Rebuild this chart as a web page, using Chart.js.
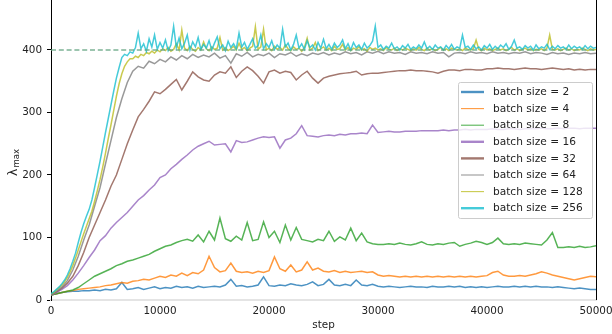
<!DOCTYPE html>
<html>
<head>
<meta charset="utf-8">
<script src="https://cdn.jsdelivr.net/npm/chart.js@4.4.1/dist/chart.umd.min.js"></script>
<style>
html,body{margin:0;padding:0;background:#fff;}
#c{display:block;}
</style>
</head>
<body>
<canvas id="c" width="612" height="334"></canvas>
<script>
// ---------- data ----------
const seriesLabels = ['batch size = 2','batch size = 4','batch size = 8','batch size = 16','batch size = 32','batch size = 64','batch size = 128','batch size = 256'];
const xTicks = [0,10000,20000,30000,40000,50000];
const yTicks = [0,100,200,300,400];
const referenceLevel = 400;

const steps500 = Array.from({length:101}, (_, i) => i * 500);
const steps250 = Array.from({length:201}, (_, i) => i * 250);

const bs2 = [8,10,12,13,14,14,15,15,16,15,
17,16,18,28,17,18,20,17,19,21,
18,20,19,22,20,21,19,22,20,21,
22,21,24,33,22,23,21,22,24,37,
23,22,24,23,26,24,23,25,29,23,
25,33,24,23,25,23,32,24,23,25,
22,21,22,21,20,21,22,21,21,20,
22,21,21,22,21,22,20,21,20,21,
20,21,22,21,21,22,21,22,21,22,
21,21,20,21,20,19,18,19,18,17,
17];

const bs4 = [8,10,12,14,15,17,18,19,20,21,
23,24,26,28,27,30,31,33,32,35,
38,36,40,38,43,39,44,42,48,70,
52,45,47,59,46,44,45,43,46,44,
47,69,50,46,56,45,48,61,48,51,
46,45,47,44,46,44,45,46,44,45,
40,38,39,38,37,38,37,38,37,38,
37,38,37,38,37,38,37,38,37,38,
39,44,46,40,38,38,39,38,40,42,
45,43,40,38,36,34,32,34,36,38,
37];

const bs8 = [8,10,12,14,16,20,26,32,38,42,
46,50,55,58,62,64,67,70,73,78,
82,86,88,92,95,97,94,104,93,110,
96,131,98,94,102,96,124,95,97,125,
100,110,92,120,96,116,97,95,93,97,
95,110,94,101,96,115,95,107,93,90,
89,89,90,89,91,89,88,90,93,89,
88,90,89,91,92,86,89,91,94,92,
89,92,99,90,89,90,89,91,90,89,
88,96,108,84,84,85,84,86,84,85,
87];

const bs16 = [8,12,17,23,32,43,55,68,80,95,
103,115,124,132,140,150,160,167,176,184,
196,200,210,217,225,232,240,246,250,254,
248,249,250,237,255,252,253,256,259,261,
260,261,243,256,259,266,279,263,262,261,
263,264,263,265,264,266,266,267,266,280,
268,269,270,269,269,270,270,270,271,271,
271,271,272,271,272,272,273,272,273,273,
273,274,273,273,274,274,273,274,274,274,
275,274,274,275,274,275,275,274,275,275,
275];

const bs32 = [9,13,19,27,38,55,76,100,120,140,
160,182,200,225,250,272,293,305,318,333,
330,337,345,353,336,350,365,357,352,350,
360,365,363,373,356,366,373,367,358,347,
365,368,363,366,364,352,360,366,355,347,
355,358,360,362,363,364,366,360,362,363,
363,364,365,366,367,367,368,367,367,366,
365,363,366,368,368,367,369,369,368,368,
370,370,371,370,370,369,370,371,370,370,
369,370,371,370,369,370,368,369,368,369,
369];

const bs64 = [9,14,21,31,48,70,96,120,150,180,
218,255,292,322,348,366,374,371,382,378,
385,381,389,384,391,386,393,388,392,389,
395,387,391,379,394,390,396,389,393,391,
395,388,394,392,396,390,394,391,395,393,
396,392,395,393,397,394,396,392,397,395,
398,394,397,395,396,393,397,395,396,394,
397,395,396,389,395,396,394,397,395,396,
394,397,395,396,394,396,395,397,394,396,
395,393,396,394,395,393,395,394,396,394,
395];

const bs128 = [10,12,16,20,24,29,36,45,55,67,
80,93,106,118,130,142,158,175,193,213,
235,258,280,303,326,346,362,374,381,386,
386,390,388,393,391,396,394,398,395,400,
397,402,399,404,398,401,410,400,432,403,
399,406,401,398,404,400,413,402,399,405,
401,403,420,400,404,399,402,406,400,411,
401,404,399,403,406,437,401,405,433,400,
403,399,406,401,404,400,408,402,399,405,
401,403,398,404,419,400,403,412,399,402,
405,400,403,399,406,401,402,409,400,404,
399,403,401,405,400,402,398,404,401,403,
400,402,399,404,401,400,403,399,402,400,
403,401,399,402,400,404,401,399,403,400,
402,399,401,404,400,402,399,403,401,400,
402,399,403,401,400,402,416,401,399,403,
400,402,399,401,403,400,402,399,401,404,
400,402,399,401,403,400,402,399,401,400,
402,399,403,424,401,400,402,399,401,403,
400,402,399,401,400,403,401,399,402,400,
401];

const bs256 = [10,13,17,21,26,32,40,50,62,75,
92,108,122,134,145,160,180,201,222,245,
268,290,312,334,355,372,388,393,391,397,
395,404,427,402,410,398,418,405,424,401,
412,403,416,399,408,438,404,419,402,411,
424,400,413,405,420,401,409,403,415,400,
411,421,402,408,399,414,404,410,402,427,
405,412,401,409,418,403,407,424,402,410,
404,415,401,408,403,433,405,411,400,409,
424,403,410,401,415,404,408,400,412,403,
417,402,409,401,411,404,408,416,402,410,
400,412,404,408,401,411,403,407,414,438,
404,408,401,406,403,411,402,405,400,407,
403,409,401,405,402,408,403,413,402,406,
401,408,403,405,400,407,402,409,401,405,
403,424,404,406,401,408,402,405,400,407,
403,409,401,406,402,408,404,410,401,406,
416,403,405,401,407,403,406,400,408,402,
405,403,409,401,406,402,407,403,405,401,
408,402,406,403,405,401,407,402,406,403,
404];

// ---------- styling ----------
const seriesColors = ['#1f77b4','#ff7f0e','#2ca02c','#9467bd','#8c564b','#7f7f7f','#bcbd22','#17becf'];
const seriesValues = [bs2,bs4,bs8,bs16,bs32,bs64,bs128,bs256];
const seriesSteps = [steps500,steps500,steps500,steps500,steps500,steps500,steps250,steps250];
const legendWidths = [2.4,1.1,1.1,2.4,2.4,1.1,1.1,2.4];
const FONT = 'DejaVu Sans';

const datasets = seriesValues.map((vals, k) => ({
  label: seriesLabels[k],
  data: seriesSteps[k].map((s, i) => ({x: s, y: vals[i]})),
  borderColor: seriesColors[k] + 'cc',
  backgroundColor: seriesColors[k] + 'cc',
  borderWidth: 1.5,
  pointRadius: 0,
  tension: 0,
  fill: false,
  order: 10 - k
}));
datasets.push({
  label: 'ref',
  data: [{x: xTicks[0], y: referenceLevel}, {x: xTicks[xTicks.length-1], y: referenceLevel}],
  borderColor: 'rgba(100,165,130,0.85)',
  borderWidth: 1.5,
  borderDash: [5, 2.8],
  pointRadius: 0,
  fill: false,
  order: 0
});

const decorations = {
  id: 'decorations',
  afterDatasetsDraw(chart) {
    const ctx = chart.ctx;
    const ca = chart.chartArea;
    ctx.save();
    // right spine
    ctx.strokeStyle = '#000';
    ctx.lineWidth = 1;
    ctx.beginPath();
    ctx.moveTo(Math.round(ca.right) + 0.5, ca.top);
    ctx.lineTo(Math.round(ca.right) + 0.5, ca.bottom);
    ctx.stroke();

    // legend
    const bx = 458.5, by = 82.5, bw = 134, bh = 136;
    ctx.fillStyle = 'rgba(255,255,255,0.8)';
    ctx.strokeStyle = '#cccccc';
    ctx.lineWidth = 1;
    ctx.beginPath();
    if (ctx.roundRect) ctx.roundRect(bx, by, bw, bh, 2); else ctx.rect(bx, by, bw, bh);
    ctx.fill();
    ctx.stroke();
    ctx.font = '10.6px "' + FONT + '"';
    ctx.textBaseline = 'middle';
    ctx.textAlign = 'left';
    for (let k = 0; k < seriesLabels.length; k++) {
      const y = 92 + k * 16.6;
      ctx.strokeStyle = seriesColors[k] + 'cc';
      ctx.lineWidth = legendWidths[k];
      ctx.beginPath();
      ctx.moveTo(461, y);
      ctx.lineTo(484, y);
      ctx.stroke();
      ctx.fillStyle = '#222';
      ctx.fillText(seriesLabels[k], 493, y + 0.5);
    }

    // y-axis title: lambda_max
    ctx.translate(0, 0);
    ctx.rotate(-Math.PI / 2);
    ctx.fillStyle = '#222';
    ctx.textBaseline = 'alphabetic';
    ctx.font = '12.5px "' + FONT + '"';
    ctx.fillText('λ', -176, 16.5);
    const lw = ctx.measureText('λ').width;
    ctx.font = '8.5px "' + FONT + '"';
    ctx.fillText('max', -176 + lw + 1, 18.5);
    ctx.restore();
  }
};

new Chart(document.getElementById('c'), {
  type: 'line',
  data: { datasets },
  options: {
    responsive: false,
    animation: false,
    devicePixelRatio: 1,
    layout: { padding: { left: 0, right: 16, top: 0, bottom: 0 } },
    plugins: { legend: { display: false }, tooltip: { enabled: false } },
    scales: {
      x: {
        type: 'linear',
        min: xTicks[0],
        max: xTicks[xTicks.length-1],
        afterBuildTicks: s => { s.ticks = xTicks.map(v => ({value: v})); },
        ticks: { font: { family: FONT, size: 10.4 }, color: '#222', padding: 5, maxRotation: 0, autoSkip: false, callback: v => String(v) },
        grid: { display: false, drawTicks: false },
        border: { display: true, color: '#e4e4e4', width: 2 },
        title: { display: true, text: 'step', font: { family: FONT, size: 10.4 }, color: '#222', padding: { top: 0, bottom: 2 } },
        afterFit: s => { s.height = 34; s.paddingLeft = 0; s.paddingRight = 0; }
      },
      y: {
        type: 'linear',
        min: 0,
        max: 480,
        afterBuildTicks: s => { s.ticks = yTicks.map(v => ({value: v})); },
        ticks: { font: { family: FONT, size: 10.4 }, color: '#222', padding: 5, callback: v => String(v) },
        grid: { display: true, drawOnChartArea: false, drawTicks: true, tickLength: 4, color: '#000', lineWidth: 1 },
        border: { display: true, color: '#000', width: 1 },
        afterFit: s => { s.width = 51; s.paddingTop = 0; s.paddingBottom = 0; }
      }
    }
  },
  plugins: [decorations]
});
</script>
</body>
</html>
